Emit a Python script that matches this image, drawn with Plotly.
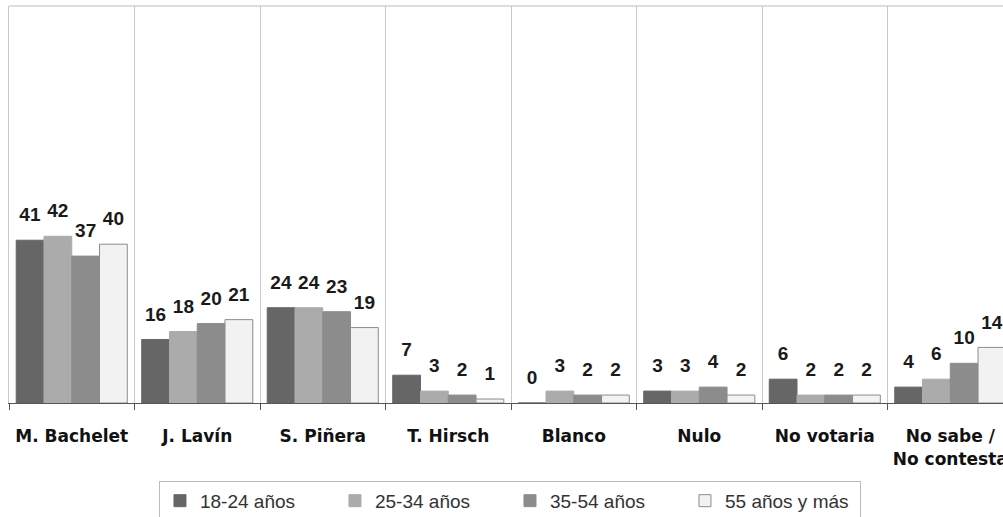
import plotly.graph_objects as go

categories = ["M. Bachelet", "J. Lavín", "S. Piñera", "T. Hirsch", "Blanco", "Nulo", "No votaria", "No sabe /<br>No contesta"]
series_names = ["18-24 años", "25-34 años", "35-54 años", "55 años y más"]
s18_24 = [41, 16, 24, 7, 0, 3, 6, 4]
s25_34 = [42, 18, 24, 3, 3, 3, 2, 6]
s35_54 = [37, 20, 23, 2, 2, 4, 2, 10]
s55 = [40, 21, 19, 1, 2, 2, 2, 14]
series_values = [s18_24, s25_34, s35_54, s55]
colors = ["#666666", "#ababab", "#8c8c8c", "#f2f2f2"]
line_colors = ["#666666", "#ababab", "#8c8c8c", "#8c8c8c"]
label_gap = 3  # transparent spacer (axis units) between bar top and value label

fig = go.Figure()
for i, (name, vals, c, lc) in enumerate(zip(series_names, series_values, colors, line_colors)):
    fig.add_trace(go.Bar(
        x=categories, y=vals, name=name, offsetgroup=str(i),
        marker=dict(color=c, line=dict(color=lc, width=1)),
    ))
for i, vals in enumerate(series_values):
    fig.add_trace(go.Bar(
        x=categories, y=[label_gap] * len(vals), base=vals, offsetgroup=str(i),
        marker=dict(color="rgba(0,0,0,0)", line=dict(width=0)),
        text=[str(v) for v in vals], textposition="outside",
        textfont=dict(family="Liberation Sans, Arial", size=19, color="#1a1a1a", weight="bold"),
        cliponaxis=False, showlegend=False, hoverinfo="skip",
    ))

fig.update_layout(
    width=1003, height=517,
    margin=dict(l=9, r=0, t=6, b=114, autoexpand=False),
    paper_bgcolor="white", plot_bgcolor="white",
    barmode="group", bargap=0.115, bargroupgap=0,
    font=dict(family="Liberation Sans, Arial", color="#222"),
    showlegend=True,
    legend=dict(orientation="h", x=0.504, xanchor="center", y=-0.196, yanchor="top",
                bordercolor="#bbbbbb", borderwidth=1, bgcolor="white",
                font=dict(size=19, color="#333"), itemwidth=30,
                entrywidth=130, entrywidthmode="pixels",
                traceorder="normal"),
    xaxis=dict(range=[-0.5, 7.42], tickson="boundaries", showgrid=True,
               gridcolor="#c8c8c8", gridwidth=1, automargin=False,
               showline=True, linecolor="#555", linewidth=1,
               ticks="outside", ticklen=6, tickcolor="#555", ticklabelstandoff=18,
               tickfont=dict(family="DejaVu Sans", size=17, color="#111"),
               ),
    yaxis=dict(range=[0, 100], showgrid=False, showticklabels=False, zeroline=False,
               automargin=False, showline=True, linecolor="#c8c8c8"),
    shapes=[dict(type="line", xref="paper", yref="paper", x0=0, x1=1, y0=1, y1=1,
                 line=dict(color="#bbbbbb", width=1))],
)
fig.update_xaxes(ticktext=["<b>%s</b>" % c for c in categories], tickvals=categories)

fig.write_html("out.html", config={"displayModeBar": False},
               post_script="document.body.style.margin='0';")
